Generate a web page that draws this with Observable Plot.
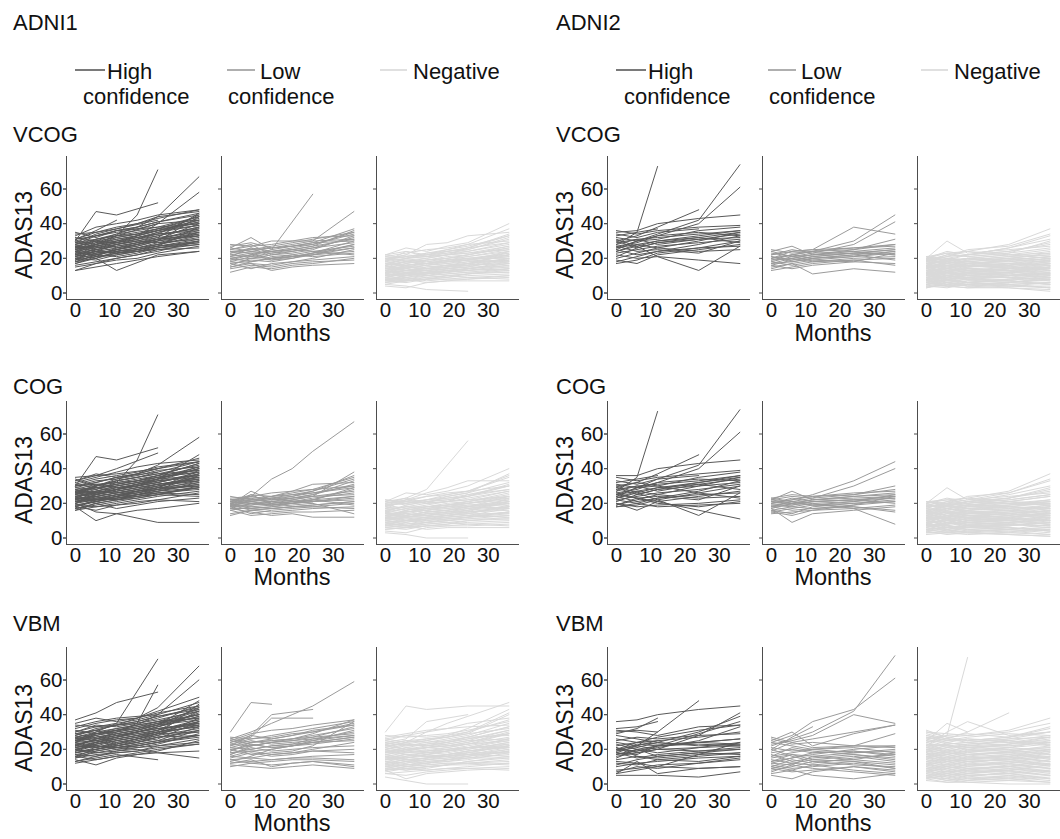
<!DOCTYPE html>
<html><head><meta charset="utf-8">
<script src="https://cdn.jsdelivr.net/npm/d3@7"></script>
<script src="https://cdn.jsdelivr.net/npm/@observablehq/plot@0.6"></script>
<style>
body{margin:0;background:#fff;}
#page{position:relative;width:1060px;height:839px;overflow:hidden;font-family:"Liberation Sans",Arial,sans-serif;}
.chart{position:absolute;}
#overlay{position:absolute;left:0;top:0;pointer-events:none;}
</style></head><body><div id="page"></div>
<script>
// ---------- categories / labels ----------
const cohorts = ["ADNI1", "ADNI2"];
const features = ["VCOG", "COG", "VBM"];
const confidence = ["High", "Low", "Negative"];
const legendLabels = [["High", "confidence"], ["Low", "confidence"], ["Negative"]];
const colors = ["#595959", "#9b9b9b", "#d9d9d9"];
const monthsADNI1 = [0, 6, 12, 18, 24, 36];
const monthsADNI2 = [0, 6, 12, 24, 36];
const xTicks = [0, 10, 20, 30];
const yTicks = [0, 20, 40, 60];

// ---------- ADAS13 trajectories (one string per subject, "-" = missing visit) ----------
// ADNI1 visits: 0 6 12 18 24 36
const a1VcogHigh = ["26 28 33 45 71 -","30 47 45 - 52 -","28 30 34 38 44 67","25 28 30 33 40 58","31 35 38 40 43 48","22 25 27 29 32 46","18 22 25 27 30 44","27 29 31 33 36 42","20 24 26 28 31 40","24 26 28 30 33 38","16 18 20 22 24 30","13 15 17 19 21 24","18 20 13 - 22 24","35 32 36 - 38 44","33 38 40 42 45 48","21 23 24 26 28 33","29 31 33 35 37 40","26 27 29 31 34 36","19 21 22 24 26 29","23 22 25 27 30 35","30 28 32 34 37 43","17 20 23 25 27 31","28 33 36 38 41 46","15 17 19 20 23 27","22 27 24 26 28 32","32 30 29 33 36 41","20 19 22 24 27 38","27 25 28 30 29 34","24 29 33 - 40 -","19 25 23 24 25 26","31 36 42 - - -","25 30 26 28 31 37","21 24 28 31 35 39","34 35 37 - 42 -","23 28 30 32 34 45","26 24 23 25 27 29","29 34 37 40 44 47","18 22 21 23 26 28","22 20 24 25 28 35","30 33 35 37 40 42","13 17 20 22 25 28","24 21 26 29 31 33","27 30 32 34 36 39","23 25 27 29 31 34","20 22 24 26 29 31","25 27 29 32 35 41","28 31 34 36 38 40","17 21 23 24 26 30","24 23 25 28 31 36","21 26 28 30 32 35","29 27 30 32 34 37","26 31 33 34 37 44","22 24 23 25 27 30","31 33 36 38 41 45","19 23 25 28 30 33","27 26 29 31 33 38","24 28 31 33 36 42"];
const a1VcogLow = ["20 22 25 - 57 -","22 24 26 28 30 47","26 32 25 27 29 30","28 27 30 30 30 31","24 25 26 27 29 37","21 23 24 26 28 35","19 20 22 23 25 33","17 19 18 20 23 28","15 17 16 18 20 25","12 15 14 16 17 20","23 26 21 22 24 27","18 17 13 15 16 17","25 28 22 24 26 32","20 18 20 21 22 24","16 20 19 21 23 30","22 21 23 24 26 29","27 29 26 27 28 34","19 22 24 25 24 22","14 16 15 17 18 19","24 23 20 21 23 26","21 26 24 25 27 36","18 21 20 22 21 23","26 24 23 25 27 31","17 14 17 18 19 21","23 25 27 29 31 35","20 22 19 20 22 28","15 18 20 21 22 26","25 27 28 30 32 33"];
const a1VcogNeg = ["5 4 2 - 1 -","4 3 6 7 8 10","22 26 24 27 29 40","20 22 28 29 33 35","18 24 22 25 27 33","21 20 23 25 28 30","16 18 20 22 24 28","14 15 17 19 21 25","12 13 15 16 17 22","10 12 13 14 15 20","8 9 10 11 12 14","6 7 8 9 10 11","7 6 8 8 9 8","9 11 10 12 13 16","11 10 12 13 14 18","13 15 14 15 17 19","15 14 16 17 18 21","17 19 18 20 21 24","19 17 19 21 22 26","20 21 22 24 25 31","13 12 11 13 14 13","10 8 9 10 9 10","8 10 12 12 13 15","12 14 16 17 19 23","16 13 15 16 16 17","18 16 17 18 20 22","14 17 19 20 22 27","11 13 14 15 16 18","9 8 10 11 12 12","6 9 7 8 8 9","5 7 9 10 11 12","15 16 18 19 20 20","17 15 14 16 18 19","21 23 25 26 28 37","12 11 13 14 16 24","19 22 21 22 23 25","7 8 6 7 7 7","10 11 12 13 14 16","14 13 13 14 15 15","22 24 21 22 26 29","16 20 22 23 25 32","8 7 8 9 11 13","13 16 17 18 19 21","20 18 17 19 19 18","11 9 11 12 13 14","18 20 21 23 24 29","15 18 19 20 22 26","12 15 16 18 19 24","9 12 13 15 16 20","7 10 11 12 14 17","20 19 20 22 23 27","17 16 17 19 20 23","14 13 14 16 17 20","11 10 11 13 14 17","8 7 8 10 11 14","22 20 21 24 26 33","19 21 23 24 26 34","13 11 12 14 15 19","10 13 14 15 17 22","16 18 17 18 19 22"];
const a1CogHigh = ["25 28 32 45 71 -","30 47 45 - 52 -","27 30 34 37 42 58","33 36 40 - 49 -","20 15 14 - 9 9","18 10 14 16 17 20","22 25 28 30 34 48","29 32 35 37 40 46","24 26 28 30 32 38","17 19 21 23 25 30","31 34 36 38 41 44","26 27 29 30 33 40","21 23 25 26 28 33","34 30 33 35 37 42","19 21 24 26 28 36","28 25 27 29 31 35","23 24 22 25 27 31","16 18 19 21 22 26","30 31 32 34 36 39","25 29 31 33 36 43","20 22 23 25 27 29","32 35 38 41 43 45","27 26 28 30 32 37","22 20 22 24 26 25","18 21 23 25 26 28","24 27 26 28 30 34","35 36 37 - 40 -","21 25 28 31 34 41","29 28 31 33 35 38","17 20 17 19 21 23","26 30 33 35 38 44","23 21 24 25 27 32","19 18 20 22 24 27","31 29 30 32 34 36","25 24 26 27 29 30","28 31 29 31 33 35","20 24 26 28 31 33","33 37 35 - 38 -","22 26 24 26 29 39","26 23 25 27 28 31","30 33 34 36 39 41","24 22 23 24 25 24","18 16 19 20 22 21","27 29 27 29 31 34","21 22 25 27 29 37","23 27 30 32 34 40","26 29 31 33 35 38","22 24 26 28 30 33","19 21 23 25 28 30","24 26 28 31 34 40","27 30 33 35 37 39","16 20 22 23 25 29","23 22 24 27 30 35","20 25 27 29 31 34","28 26 29 31 33 36","25 30 32 33 36 43","21 23 22 24 26 29","30 32 35 37 40 44","18 22 24 27 29 32","26 25 28 30 32 37","23 27 30 32 35 41"];
const a1CogLow = ["20 24 34 40 50 67","19 27 22 24 26 30","18 25 20 22 24 38","20 21 23 25 27 36","21 19 21 23 25 33","17 20 19 21 22 29","22 23 24 26 28 35","19 18 17 18 19 21","18 14 16 17 18 20","16 13 14 15 15 16","20 22 21 22 24 27","21 25 24 27 31 32","19 21 22 23 24 25","17 17 18 20 21 24","22 20 19 20 21 23","14 16 15 16 17 18","23 24 22 23 25 31","18 19 20 21 23 26","20 17 18 19 20 14","16 18 19 20 22 28","21 23 20 21 22 19","19 20 21 20 22 24","24 22 23 24 27 34","18 22 23 - 20 -","17 15 13 14 12 12","13 16 17 18 19 21","20 21 19 20 21 22","22 24 26 27 28 30","19 16 17 18 18 17","21 22 24 25 26 29"];
const a1CogNeg = ["3 2 0 - 0 -","20 23 28 - 56 -","21 26 25 27 30 40","19 22 26 29 33 33","17 22 20 24 26 37","22 21 24 26 27 30","15 17 19 21 23 27","13 14 16 18 20 24","11 12 14 15 16 21","9 11 12 13 14 19","7 8 9 10 11 13","5 6 7 8 9 10","6 5 7 7 8 7","8 10 9 11 12 15","10 9 11 12 13 17","12 14 13 14 16 18","14 13 15 16 17 20","16 18 17 19 20 23","18 16 18 20 21 25","19 20 21 23 24 30","12 11 10 12 13 12","9 7 8 9 8 9","7 9 11 11 12 14","11 13 15 16 18 22","15 12 14 15 15 16","17 15 16 17 19 21","13 16 18 19 21 26","10 12 13 14 15 17","8 7 9 10 11 11","4 3 6 7 7 8","5 6 8 9 10 11","14 15 17 18 19 19","16 14 13 15 17 18","20 22 24 25 27 35","11 10 12 13 15 23","18 21 20 21 22 24","6 7 5 6 6 6","9 10 11 12 13 15","13 12 12 13 14 14","21 23 20 21 25 28","15 19 21 22 24 31","7 6 7 8 10 12","12 15 16 17 18 20","19 17 16 18 18 17","10 8 10 11 12 13","19 20 22 23 25 30","16 18 20 21 22 27","13 15 17 18 20 23","10 12 14 15 17 21","8 10 11 13 14 18","21 19 21 22 24 28","18 16 18 19 21 24","15 13 15 16 18 21","12 10 12 13 15 18","9 7 9 10 12 15","22 20 22 24 26 32","20 21 22 25 27 36","14 12 13 14 16 20","11 13 15 16 18 24","17 18 18 19 20 22"];
const a1VbmHigh = ["25 30 35 - 72 -","22 26 30 35 57 -","37 41 47 - 53 -","28 31 34 38 44 68","26 28 31 34 40 60","35 38 36 38 42 50","30 33 35 37 40 47","24 27 29 31 34 44","20 23 26 28 31 42","18 20 23 25 28 38","14 11 15 17 19 25","12 14 16 18 20 23","13 15 17 - 14 -","16 18 19 20 18 15","22 24 26 28 30 36","27 29 30 32 35 40","32 35 37 38 41 45","19 22 21 23 25 33","29 26 28 30 32 35","23 21 24 26 28 32","17 19 21 22 24 27","25 28 23 26 29 34","21 24 27 30 33 39","15 17 18 19 21 23","33 36 38 - 40 -","26 25 27 29 31 37","20 18 20 21 22 24","28 32 34 35 37 42","24 22 25 27 29 30","18 21 24 26 29 46","31 29 31 33 35 38","22 26 28 30 33 41","16 14 16 17 18 19","27 30 32 34 36 43","23 25 22 24 27 28","19 20 22 24 26 36","34 33 34 36 39 44","21 23 25 27 30 35","13 16 19 21 23 29","29 31 28 30 32 34","25 27 29 31 34 48","17 16 18 19 22 26","24 29 31 33 36 40","20 22 20 22 24 31","30 34 33 35 38 45","25 28 30 32 34 37","21 23 25 27 30 33","18 20 22 24 27 31","23 25 27 30 33 39","26 29 32 34 36 38","15 19 21 22 24 28","22 21 23 26 29 34","19 24 26 28 30 33","27 25 28 30 32 35","24 29 31 32 35 42","20 22 21 23 25 28","29 31 34 36 39 43","16 20 22 25 27 30","25 24 27 29 31 36","22 26 29 31 34 40"];
const a1VbmLow = ["30 47 46 - - -","26 30 35 40 45 59","22 28 40 - 43 -","24 27 38 - 38 -","25 29 31 32 34 37","23 26 28 30 32 36","21 24 26 28 30 35","20 22 24 25 27 33","18 20 22 23 26 30","16 19 20 22 24 27","14 15 17 18 20 24","12 13 14 15 16 17","10 12 11 12 13 10","11 10 9 10 11 9","12 14 10 12 13 11","17 21 19 20 21 22","19 23 21 22 23 26","22 25 23 24 25 28","24 28 26 28 31 34","15 18 16 17 19 20","20 17 18 19 22 36","26 24 25 26 28 32","13 16 20 22 25 31","18 19 17 18 19 18","21 20 22 23 24 25","27 26 27 29 30 34","16 15 14 15 15 14","23 22 24 26 29 37","19 24 25 26 27 29","14 12 13 14 14 13","25 23 21 22 24 27","17 22 24 25 26 28"];
const a1VbmNeg = ["30 45 43 - 45 45","4 2 0 - 0 -","8 3 6 7 8 9","24 26 36 - 40 -","22 24 30 35 39 47","20 23 25 28 32 43","25 28 30 32 35 38","18 20 22 24 27 33","16 18 19 21 23 29","14 16 17 19 21 25","12 14 15 17 18 22","10 11 13 14 16 20","8 9 10 11 13 15","6 7 8 9 10 12","7 9 8 9 9 10","9 8 10 11 12 14","11 13 12 14 15 17","13 12 14 15 16 19","15 17 16 17 19 22","17 15 17 19 20 24","19 21 20 21 23 27","21 19 21 22 24 30","23 25 24 26 28 35","26 24 25 27 29 32","28 27 28 29 31 36","12 10 11 12 12 11","10 12 14 15 17 21","14 15 16 16 17 16","16 14 15 16 18 18","18 21 23 24 26 31","20 18 19 20 21 22","22 23 22 23 25 26","24 22 23 25 27 28","11 9 10 11 11 12","13 15 17 18 20 24","15 13 14 16 17 20","17 19 18 19 21 23","19 17 16 17 19 21","27 29 31 32 33 34","9 11 12 13 14 18","6 5 7 8 9 8","21 24 26 27 30 41","25 23 22 24 26 29","8 10 11 12 12 13","23 20 21 22 23 25","20 22 24 25 27 33","17 19 21 22 24 29","14 16 18 19 21 26","11 13 15 16 18 22","8 10 12 13 15 19","22 20 21 23 25 31","19 17 18 20 22 26","16 14 15 17 19 23","13 11 12 14 16 19","10 8 9 11 13 16","26 28 27 28 30 37","23 25 26 27 29 40","12 14 13 14 15 15","18 20 19 20 21 21","15 17 16 16 17 18"];
// ADNI2 visits: 0 6 12 24 36
const a2VcogHigh = ["28 35 73 - -","25 30 34 42 74","27 29 33 40 61","30 33 38 48 -","35 36 40 43 45","24 27 21 13 27","22 20 21 19 17","36 34 36 38 39","20 23 26 30 35","18 21 24 28 33","26 28 30 33 36","29 31 28 31 34","33 35 37 - -","23 25 27 29 31","31 27 30 32 29","19 17 22 25 28","27 24 25 23 30","21 26 29 32 35","25 22 24 26 27","32 30 33 35 33","28 31 32 34 36","24 28 26 24 25","30 26 29 31 32","17 19 23 26 30","34 32 35 37 -","26 30 31 36 38"];
const a2VcogLow = ["20 22 24 30 45","18 21 23 28 41","22 24 25 38 34","24 27 22 25 28","19 20 22 24 26","17 18 20 22 24","21 19 21 23 25","15 17 11 14 12","23 21 19 21 23","16 19 21 23 22","20 22 20 21 24","13 15 17 19 20","25 23 24 26 27","18 16 18 20 21","22 25 23 24 22","14 17 19 18 17","19 22 24 25 31","21 18 20 22 19","17 20 18 19 16","24 21 22 23 25","16 14 16 18 23","20 24 25 26 28"];
const a2VcogNeg = ["20 30 23 25 27","19 22 24 28 37","18 21 22 26 33","21 19 22 24 29","20 23 21 23 26","19 17 20 22 23","18 20 19 21 24","17 18 16 19 21","16 19 18 20 22","15 16 17 16 18","14 17 15 17 19","13 14 16 15 17","12 15 13 14 16","11 12 14 13 15","10 13 12 14 13","9 11 10 12 14","8 10 11 10 12","7 9 8 10 11","6 8 9 9 10","5 7 6 8 9","4 6 7 6 8","3 5 4 5 6","4 3 5 4 3","5 4 3 3 1","6 5 6 4 4","7 6 4 6 5","8 7 8 7 6","9 8 6 8 7","10 9 10 9 8","11 10 9 11 9","12 11 12 10 11","13 12 11 12 10","14 13 14 13 12","15 14 13 15 14","16 15 16 14 15","17 16 15 17 16","18 17 18 16 17","19 18 17 19 18","20 19 20 18 20","21 20 19 21 22","18 22 21 23 30","16 20 22 24 28","14 18 20 22 25","12 14 17 19 21","10 12 15 16 19","8 10 12 14 17","6 9 11 12 15","17 14 13 12 11","15 12 10 9 8","13 10 8 7 5","11 8 6 5 3","9 6 4 3 2","20 24 22 26 31","19 21 25 27 34","21 23 24 22 20","17 19 18 20 19","15 18 16 17 20","13 16 14 15 18","11 14 12 13 16","9 12 10 11 14","7 10 8 9 12","5 8 6 7 10","3 6 5 6 8","19 16 18 17 16","17 14 16 15 13","15 12 14 13 11","13 10 12 11 9","11 8 10 9 7","9 6 8 7 5","7 4 6 5 3","21 18 20 19 21","20 17 19 20 23","18 15 17 18 20","16 13 15 16 19","14 11 13 14 17","12 9 11 12 15","10 7 9 10 13","8 5 7 8 11","6 4 5 6 9","4 4 3 4 6"];
const a2CogHigh = ["27 35 73 - -","24 29 34 42 74","26 28 32 40 61","29 32 37 48 -","36 36 40 43 45","23 26 22 13 26","25 23 21 16 11","35 33 35 37 39","19 22 25 30 35","18 20 23 27 33","25 27 29 32 36","28 30 27 31 34","32 34 36 - -","22 24 26 28 31","30 26 29 31 28","20 16 21 24 27","26 23 24 22 30","21 25 28 32 35","24 21 23 25 26","31 29 32 34 33","27 30 31 33 36","23 27 25 23 24","29 25 28 30 32","18 19 22 26 30","33 31 34 36 -","25 29 30 35 38","20 18 19 20 22","22 20 18 19 20","30 32 30 26 23","19 23 20 18 21"];
const a2CogLow = ["20 22 25 33 44","18 21 23 30 40","22 27 22 24 26","17 9 14 16 18","23 21 20 17 8","19 20 22 23 24","21 19 21 22 23","16 18 17 19 21","20 23 21 22 20","15 17 19 20 22","22 24 23 25 30","18 16 17 18 16","14 15 16 17 19","21 22 24 26 27","19 18 20 21 25","17 20 19 21 23","23 25 24 25 28","16 14 18 20 21","20 21 19 18 15","18 19 21 22 24","22 20 22 24 25","15 13 16 19 24"];
const a2CogNeg = ["20 29 22 24 26","19 21 23 27 37","18 20 22 26 34","21 18 21 23 28","20 22 20 22 25","19 18 19 21 24","18 19 20 22 25","17 16 18 19 20","16 18 17 19 21","15 17 16 18 17","14 16 17 16 18","13 15 14 16 15","12 14 15 13 14","11 13 12 14 16","10 12 13 12 13","9 10 11 10 12","8 11 9 11 10","7 8 10 9 11","6 9 8 7 9","5 6 7 8 7","4 5 6 5 6","3 4 3 4 5","2 3 4 3 2","4 2 3 2 1","5 6 4 5 3","6 4 5 6 4","7 6 7 5 6","8 7 6 8 7","9 10 8 9 8","10 8 9 10 9","11 12 10 11 10","12 11 12 11 12","13 12 13 14 11","14 15 13 14 13","15 13 14 15 14","16 17 15 16 15","17 15 16 17 18","18 19 17 18 16","19 17 19 20 19","21 20 18 20 21","17 21 20 23 29","15 19 21 23 27","13 17 19 21 24","11 13 16 18 20","9 12 14 15 18","7 9 11 13 16","5 8 10 12 14","16 13 12 11 10","14 11 9 8 7","12 9 7 6 4","10 7 5 4 2","8 5 3 2 1","20 23 21 25 30","18 20 24 26 33","21 22 23 21 19","18 20 19 21 20","16 19 17 18 21","14 17 15 16 19","12 15 13 14 17","10 13 11 12 15","8 11 9 10 13","6 9 7 8 11","4 7 6 7 9","20 17 19 18 17","18 15 17 16 14","16 13 15 14 12","14 11 13 12 10","12 9 11 10 8","10 7 9 8 6","8 5 7 6 4","21 19 21 20 22","19 16 18 19 22","17 14 16 17 19","15 12 14 15 18","13 10 12 13 16","11 8 10 11 14","9 6 8 9 12","7 4 6 7 10","5 3 4 5 8","3 3 2 3 5"];
const a2VbmHigh = ["20 22 30 48 -","36 37 40 43 45","32 33 36 - -","30 31 30 - -","29 32 38 - -","21 18 20 28 41","19 21 24 30 39","18 17 22 29 36","17 19 21 25 33","6 8 10 17 24","5 5 5 4 7","6 13 6 9 10","22 24 25 27 30","20 19 22 24 26","16 18 20 21 22","15 20 16 18 20","12 11 14 16 18","10 12 13 15 16","8 9 11 12 14","25 27 26 28 29","28 26 24 22 23","31 30 28 33 34","23 20 18 21 24","19 23 22 24 23","18 15 17 19 21","14 16 15 17 18","20 24 27 31 34","17 20 22 23 22","26 24 23 24 26","11 14 16 18 17","7 10 9 12 15","21 16 14 13 16","24 22 20 19 20","13 12 10 9 10","18 22 25 - -"];
const a2VbmLow = ["22 26 30 42 74","24 28 36 43 61","23 25 28 40 35","20 27 33 - -","25 30 22 29 34","19 24 26 30 34","16 18 20 22 29","27 24 21 22 22","13 15 17 20 22","12 11 16 18 19","10 14 12 15 17","8 10 13 14 18","5 3 7 10 8","6 8 5 3 6","9 7 8 10 7","11 9 10 12 9","14 12 11 13 11","15 17 14 16 13","17 13 15 17 15","18 20 18 19 17","21 19 20 18 20","12 15 18 19 16","10 8 11 8 6","24 22 20 21 18","13 17 16 14 12","7 11 9 7 5","16 21 19 17 14","20 16 13 11 10","26 23 24 22 21","9 12 14 13 9"];
const a2VbmNeg = ["24 28 73 - -","25 35 30 - -","22 30 36 28 30","28 26 30 41 -","30 29 28 31 38","31 27 28 30 35","26 28 29 27 33","27 25 27 29 28","29 26 24 26 27","25 24 26 25 23","24 21 23 25 22","23 22 20 23 24","22 19 21 20 21","21 20 18 21 19","20 17 19 18 20","19 18 16 19 17","18 15 17 16 18","17 16 14 17 15","16 13 15 14 16","15 14 12 15 13","14 11 13 12 14","13 12 10 13 11","12 9 11 10 12","11 10 8 11 9","10 7 9 8 10","9 8 6 9 7","8 5 7 6 8","7 6 4 7 5","6 3 5 4 6","5 4 2 5 3","4 2 3 2 4","3 1 2 3 1","2 1 1 0 0","4 3 1 2 1","6 5 3 4 2","8 7 5 6 3","10 9 7 8 5","12 11 9 10 7","14 13 11 12 9","16 15 13 14 11","18 17 15 16 13","20 19 17 18 15","22 23 19 20 17","27 24 22 23 26","24 26 25 27 32","21 23 24 26 30","19 21 22 25 28","17 19 21 23 27","15 17 19 21 25","13 15 17 19 22","11 13 15 16 20","9 11 13 14 18","7 9 11 12 16","5 7 8 10 14","3 5 6 8 11","28 25 26 24 25","26 23 24 22 24","23 20 22 21 23","21 18 20 19 21","19 16 18 17 19","17 14 16 15 17","15 12 14 13 15","13 10 12 11 13","11 8 10 9 11","9 6 8 7 9","7 4 6 5 7","5 2 4 3 5","25 22 23 24 27","20 22 21 22 24","16 18 17 18 20","12 14 13 14 16","8 10 9 10 12","4 6 5 6 8","30 27 25 27 30","18 13 14 15 19"];

// ---------- assemble ----------
const panels = [
  {cohort: "ADNI1", feature: "VCOG", months: monthsADNI1, series: [a1VcogHigh, a1VcogLow, a1VcogNeg]},
  {cohort: "ADNI1", feature: "COG",  months: monthsADNI1, series: [a1CogHigh, a1CogLow, a1CogNeg]},
  {cohort: "ADNI1", feature: "VBM",  months: monthsADNI1, series: [a1VbmHigh, a1VbmLow, a1VbmNeg]},
  {cohort: "ADNI2", feature: "VCOG", months: monthsADNI2, series: [a2VcogHigh, a2VcogLow, a2VcogNeg]},
  {cohort: "ADNI2", feature: "COG",  months: monthsADNI2, series: [a2CogHigh, a2CogLow, a2CogNeg]},
  {cohort: "ADNI2", feature: "VBM",  months: monthsADNI2, series: [a2VbmHigh, a2VbmLow, a2VbmNeg]}
];

function toRows(p) {
  const rows = [];
  p.series.forEach((list, ci) => {
    list.forEach((s, si) => {
      s.trim().split(/\s+/).forEach((v, vi) => {
        if (v !== "-") rows.push({id: confidence[ci] + si, conf: confidence[ci], month: p.months[vi], adas: +v});
      });
    });
  });
  return rows;
}

// ---------- layout ----------
const cohortX = {ADNI1: 0, ADNI2: 541};
const rowTop = {VCOG: 156, COG: 400.7, VBM: 647};
const rowLabelBase = {VCOG: 142, COG: 394, VBM: 631};
const ylabCenter = {VCOG: 235, COG: 480, VBM: 728};
const monthsBase = {VCOG: 341, COG: 585, VBM: 831};
const MT = 5, PH = 143, MB = 32;
const FONT = '"Liberation Sans", Arial, Helvetica, sans-serif';
const axisColor = "#4d4d4d";

const page = document.getElementById("page");

for (const p of panels) {
  const rows = toRows(p);
  const chart = Plot.plot({
    width: 520, height: MT + PH + MB,
    marginLeft: 66, marginRight: 2, marginTop: MT, marginBottom: MB,
    style: {fontFamily: FONT, background: "transparent", overflow: "visible", color: "#111"},
    x: {domain: [-2.6, 38.8], label: null},
    y: {domain: [-3.75, 78.75], label: null},
    fx: {domain: confidence, paddingInner: 0.084, paddingOuter: 0, axis: null, label: null, round: false},
    color: {domain: confidence, range: colors},
    marks: [
      Plot.frame({anchor: "left", stroke: axisColor}),
      Plot.frame({anchor: "bottom", stroke: axisColor}),
      Plot.lineY(rows, {x: "month", y: "adas", z: "id", fx: "conf", stroke: "conf", strokeWidth: 1, curve: "linear"}),
      Plot.axisX({ticks: xTicks, tickSize: 0, tickPadding: 3, fontSize: 20.5, label: null, fill: "#111"}),
      Plot.axisY({ticks: yTicks, tickSize: 3, tickPadding: 1, fontSize: 20.5, label: null, fill: "#111", stroke: axisColor}),
      Plot.axisY({ticks: yTicks, tickSize: 3, facetAnchor: null, fill: "none", label: null, stroke: axisColor})
    ]
  });
  chart.classList.add("chart");
  chart.style.left = cohortX[p.cohort] + "px";
  chart.style.top = (rowTop[p.feature] - MT) + "px";
  page.appendChild(chart);
}

// ---------- titles, legends, axis titles ----------
const svg = d3.select(page).append("svg").attr("id", "overlay")
  .attr("width", 1060).attr("height", 839)
  .style("font-family", FONT);

const legendKeys = [[75, 105], [227, 255], [380, 407]];
const legendText = [[107, 83], [260, 228], [413, 413]];

for (const c of cohorts) {
  const dx = cohortX[c];
  svg.append("text").attr("x", 13 + dx + (c === "ADNI2" ? 2 : 0)).attr("y", 30)
    .attr("font-size", 22).attr("fill", "#111").text(c);
  confidence.forEach((k, i) => {
    svg.append("line").attr("x1", legendKeys[i][0] + dx).attr("x2", legendKeys[i][1] + dx)
      .attr("y1", 70).attr("y2", 70).attr("stroke", colors[i]).attr("stroke-width", 1.6);
    const lab = legendLabels[i];
    svg.append("text").attr("x", legendText[i][0] + dx).attr("y", 79)
      .attr("font-size", 22).attr("fill", "#111").text(lab[0]);
    if (lab[1]) svg.append("text").attr("x", legendText[i][1] + dx).attr("y", 104)
      .attr("font-size", 22).attr("fill", "#111").text(lab[1]);
  });
  for (const f of features) {
    svg.append("text").attr("x", 13 + dx + (c === "ADNI2" ? 2 : 0)).attr("y", rowLabelBase[f])
      .attr("font-size", 22).attr("fill", "#111").text(f);
    svg.append("text")
      .attr("transform", `translate(${31.5 + dx},${ylabCenter[f]}) rotate(-90)`)
      .attr("text-anchor", "middle").attr("font-size", 23).attr("fill", "#111").text("ADAS13");
    svg.append("text").attr("x", 292 + dx).attr("y", monthsBase[f]).attr("text-anchor", "middle")
      .attr("font-size", 23.5).attr("fill", "#111").text("Months");
  }
}
</script>
</body></html>
